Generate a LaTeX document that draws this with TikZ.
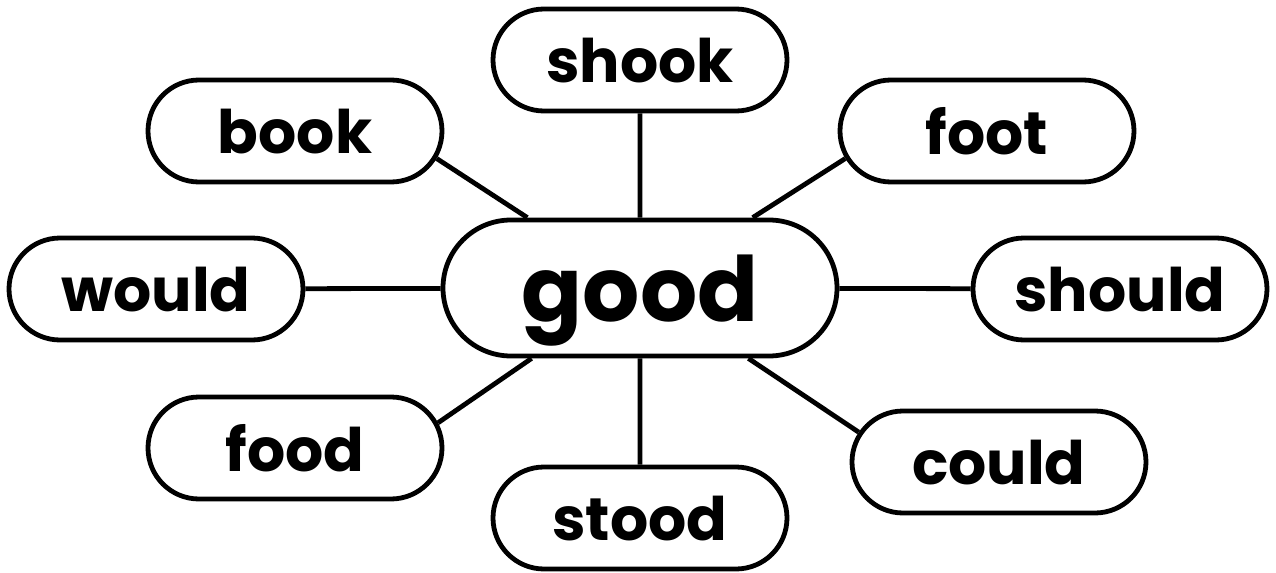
\documentclass[tikz,border=0pt]{standalone}
\usepackage{fontspec}
\setmainfont{Poppins}
\usetikzlibrary{shapes.misc}
\tikzset{
  word/.style={rounded rectangle,draw=black,line width=2.4pt,fill=white,
    minimum width=147pt,minimum height=51pt,inner sep=0pt,text depth=0pt,
    font=\bfseries\fontsize{30}{30}\selectfont},
  hub/.style={word,minimum width=197pt,minimum height=68pt,
    font=\bfseries\fontsize{45}{45}\selectfont},
  link/.style={line width=2.4pt},
}
\begin{document}
\begin{tikzpicture}[x=0.5pt,y=-0.5pt]
  \useasboundingbox (0,0) rectangle (1276,573);
  % centre word
  \node[hub] (good) at (640,288) {good};
  % words round it
  \node[word] (shook) at (640,60) {shook};
  \node[word] (book) at (295,131) {book};
  \node[word] (foot) at (987,131) {foot};
  \node[word] (would) at (156,289) {would};
  \node[word] (should) at (1120,289) {should};
  \node[word] (food) at (295,448) {food};
  \node[word] (could) at (999,462) {could};
  \node[word] (stood) at (640,518) {stood};
  % spokes
  \draw[link] (good) -- (shook);
  \draw[link] (good.148) -- (book.-11);
  \draw[link] (good.32) -- (foot.191);
  \draw[link] (good) -- (would);
  \draw[link] (good) -- (should);
  \draw[link] (good.213) -- (food.10);
  \draw[link] (good.-33) -- (could.168);
  \draw[link] (good) -- (stood);
\end{tikzpicture}
\end{document}
